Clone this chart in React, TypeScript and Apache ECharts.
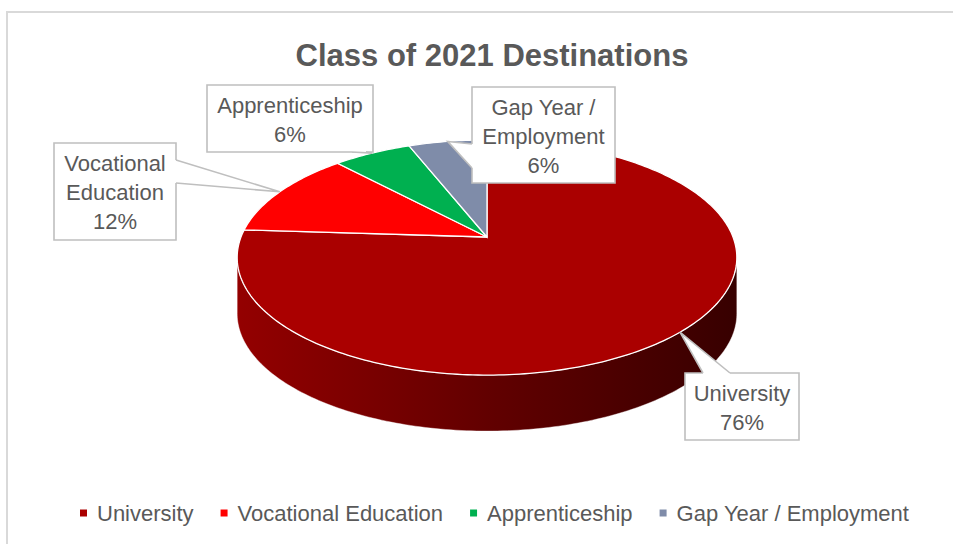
import React, { useEffect, useRef } from 'react';
import * as echarts from 'echarts';

// ---- data ----
const categories = ['University', 'Vocational Education', 'Apprenticeship', 'Gap Year / Employment'];
const labelLines = [['University'], ['Vocational', 'Education'], ['Apprenticeship'], ['Gap Year /', 'Employment']];
const values = [76, 12, 6, 6];
const chartTitle = 'Class of 2021 Destinations';

// ---- styles / layout ----
const colors = ['#AA0000', '#FF0000', '#00B050', '#7F8CA9'];
const FONT = '"Liberation Sans", Arial, sans-serif';
const TEXT = '#595959';
const CX = 487, CY = 237, RX = 246, RY = 114, K = 0.1745, DEPTH = 56;
const boxes = [
  { x: 685, y: 373, w: 114, h: 67, base: [[703, 373], [730, 373]], inward: [0, 2] },
  { x: 54, y: 143, w: 122, h: 97, base: [[176, 160], [176, 183]], inward: [-2, 0] },
  { x: 207, y: 85, w: 166, h: 67, base: [[352, 152], [366, 152]], inward: [0, -2] },
  { x: 472, y: 87, w: 143, h: 96, base: [[472, 144], [472, 168]], inward: [2, 0] },
];

const total = values.reduce((a, b) => a + b, 0);
const cum: number[] = [0];
values.forEach((v, i) => cum.push(cum[i] + v));

function proj(phi: number, dy = 0): number[] {
  const r = (phi * Math.PI) / 180;
  const u = Math.sin(r);
  const v = -Math.cos(r);
  const w = 1 - K * v;
  return [CX + (RX * u) / w, CY + (RY * v) / w + dy];
}
function arc(a0: number, a1: number, dy = 0): number[][] {
  const pts: number[][] = [];
  const n = Math.max(2, Math.ceil(Math.abs(a1 - a0)));
  for (let j = 0; j <= n; j++) pts.push(proj(a0 + ((a1 - a0) * j) / n, dy));
  return pts;
}
const SIDE0 = (Math.acos(-K) * 180) / Math.PI;
const SIDE1 = 360 - SIDE0;

const sideGradient = new echarts.graphic.LinearGradient(
  CX - RX, 0, CX + RX, 0,
  [
    { offset: 0, color: '#930000' },
    { offset: 0.5, color: '#620000' },
    { offset: 1, color: '#380000' },
  ],
  true
);

export default function App() {
  const ref = useRef<HTMLDivElement>(null);
  useEffect(() => {
    if (!ref.current) return;
    const chart = echarts.init(ref.current, undefined, { renderer: 'svg' });

    const sliceSeries = categories.map((name, i) => ({
      type: 'custom',
      name,
      coordinateSystem: 'none',
      z: 2,
      silent: true,
      itemStyle: { color: colors[i] },
      data: [[values[i]]],
      renderItem: (_params: any, api: any) => {
        const v = api.value(0);
        const a0 = (cum[i] / total) * 360;
        const a1 = ((cum[i] + v) / total) * 360;
        const children: any[] = [];
        const s0 = Math.max(a0, SIDE0);
        const s1 = Math.min(a1, SIDE1);
        if (s1 > s0) {
          const top = arc(s0, s1);
          const bot = arc(s0, s1, DEPTH).reverse();
          children.push({
            type: 'polygon',
            shape: { points: top.concat(bot) },
            style: { fill: sideGradient, stroke: 'rgba(255,255,255,0.5)', lineWidth: 0.8 },
          });
        }
        children.push({
          type: 'polygon',
          shape: { points: [[CX, CY]].concat(arc(a0, a1)) },
          style: { fill: colors[i], stroke: '#FFFFFF', lineWidth: 1.3 },
        });
        return { type: 'group', children };
      },
    }));

    const labelSeries = {
      type: 'custom',
      name: '__labels',
      coordinateSystem: 'none',
      z: 10,
      silent: true,
      data: values.map((v) => [v]),
      renderItem: (params: any, api: any) => {
        const i = params.dataIndex;
        const v = api.value(0);
        const mid = ((cum[i] + v / 2) / total) * 360;
        const anchor = proj(mid);
        const b = boxes[i];
        const [b1, b2] = b.base;
        const inn = b.inward;
        const pct = Math.round((v / total) * 100) + '%';
        const text = labelLines[i].concat([pct]).join('\n');
        return {
          type: 'group',
          children: [
            {
              type: 'rect',
              shape: { x: b.x, y: b.y, width: b.w, height: b.h },
              style: { fill: '#FFFFFF', stroke: '#BFBFBF', lineWidth: 1.6 },
            },
            {
              type: 'polygon',
              shape: {
                points: [anchor, b1, [b1[0] + inn[0], b1[1] + inn[1]], [b2[0] + inn[0], b2[1] + inn[1]], b2],
              },
              style: { fill: '#FFFFFF' },
            },
            {
              type: 'polyline',
              shape: { points: [b1, anchor, b2] },
              style: { stroke: '#BFBFBF', lineWidth: 1.6, fill: null },
            },
            {
              type: 'text',
              style: {
                text,
                x: b.x + b.w / 2,
                y: b.y + b.h / 2 + 1,
                align: 'center',
                verticalAlign: 'middle',
                fill: TEXT,
                fontSize: 22,
                fontFamily: FONT,
                lineHeight: 29,
              },
            },
          ],
        };
      },
    };

    chart.setOption({
      animation: false,
      backgroundColor: '#FFFFFF',
      title: {
        text: chartTitle,
        left: 487,
        textAlign: 'center',
        top: 35,
        textStyle: { fontSize: 31, fontWeight: 'bold', color: TEXT, fontFamily: FONT },
      },
      legend: {
        data: categories,
        left: 75,
        top: 497,
        icon: 'rect',
        itemWidth: 7,
        itemHeight: 7,
        itemGap: 27,
        selectedMode: false,
        textStyle: { fontSize: 22, color: TEXT, fontFamily: FONT, padding: [0, 0, 0, 5] },
      },
      graphic: [
        {
          type: 'rect',
          silent: true,
          z: -10,
          shape: { x: 7, y: 12, width: 1000, height: 600 },
          style: { fill: 'none', stroke: '#D9D9D9', lineWidth: 2 },
        },
      ],
      series: [...sliceSeries, labelSeries],
    });
    return () => chart.dispose();
  }, []);
  return (
    <div
      ref={ref}
      style={{ position: 'fixed', left: 0, top: 0, width: 953, height: 544, background: '#fff' }}
    />
  );
}
